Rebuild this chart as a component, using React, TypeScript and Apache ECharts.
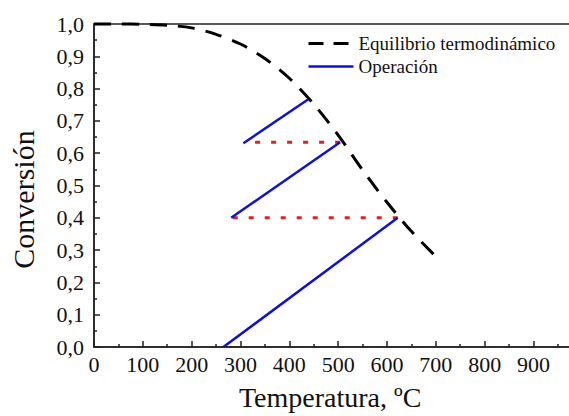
import React, { useEffect, useRef } from "react";
import * as echarts from "echarts";

const xTickLabels = [0, 100, 200, 300, 400, 500, 600, 700, 800, 900];
const xMax = 1000;
const yTickLabels = ["0,0", "0,1", "0,2", "0,3", "0,4", "0,5", "0,6", "0,7", "0,8", "0,9", "1,0"];

// Equilibrium curve (temperature °C, conversion)
const eqT = [0, 50, 100, 150, 200, 250, 300, 350, 400, 450, 500, 550, 600, 650, 710];
const eqX = [1.0, 1.0, 0.999, 0.996, 0.988, 0.968, 0.938, 0.893, 0.832, 0.752, 0.656, 0.548, 0.448, 0.358, 0.265];

// Operating lines (adiabatic beds)
const opT = [265, 622, null, 281, 504, null, 306, 439];
const opX = [0.0, 0.4, null, 0.4, 0.634, null, 0.631, 0.767];

// Inter-stage cooling (dotted)
const coolT = [622, 281, null, 504, 328];
const coolX = [0.4, 0.4, null, 0.634, 0.634];

const FONT = "Liberation Serif";

function pairs(t: (number | null)[], x: (number | null)[]) {
  return t.map((v, i) => (v === null || x[i] === null ? "-" : [v, x[i]]));
}

export default function App() {
  const ref = useRef<HTMLDivElement>(null);
  useEffect(() => {
    if (!ref.current) return;
    const chart = echarts.init(ref.current, undefined, { renderer: "svg" });
    chart.setOption({
      animation: false,
      backgroundColor: "#ffffff",
      textStyle: { fontFamily: FONT },
      grid: {
        left: 92.7,
        top: 24,
        bottom: 66.7,
        right: 17.7,
        show: true,
        borderColor: "#222",
        borderWidth: 1.5,
        backgroundColor: "transparent",
      },
      legend: {
        orient: "vertical",
        left: 307,
        top: 34,
        padding: 0,
        itemWidth: 45,
        itemHeight: 14,
        itemGap: 4,
        itemStyle: { opacity: 0 },
        data: [
          { name: "Equilibrio termodinámico", lineStyle: { type: [15, 10], width: 3, color: "#000" } },
          { name: "Operación", lineStyle: { type: "solid", width: 2.5, color: "#1010d8" } },
        ],
        textStyle: { fontFamily: FONT, fontSize: 19, color: "#111" },
      },
      xAxis: {
        type: "value",
        min: 0,
        max: xMax,
        interval: 100,
        name: "Temperatura, ºC",
        nameLocation: "middle",
        nameGap: 36,
        nameTextStyle: { fontFamily: FONT, fontSize: 28, color: "#111", padding: [0, 16, 0, 0] },
        axisLine: { show: true, lineStyle: { color: "#222", width: 1.5 } },
        axisTick: { show: true, inside: true, length: 6, lineStyle: { color: "#222", width: 1.5 } },
        minorTick: { show: true, splitNumber: 2, length: 3, lineStyle: { color: "#222", width: 1.5 } },
        splitLine: { show: false },
        axisLabel: {
          fontFamily: FONT,
          fontSize: 22,
          color: "#111",
          margin: 6,
          formatter: (v: number) => (xTickLabels.indexOf(v) >= 0 ? String(v) : ""),
        },
      },
      yAxis: {
        type: "value",
        min: 0,
        max: 1,
        interval: 0.1,
        name: "Conversión",
        nameLocation: "middle",
        nameGap: 56,
        nameTextStyle: { fontFamily: FONT, fontSize: 30, color: "#111", padding: [0, 28, 0, 0] },
        axisLine: { show: true, lineStyle: { color: "#222", width: 1.5 } },
        axisTick: { show: true, inside: true, length: 6, lineStyle: { color: "#222", width: 1.5 } },
        minorTick: { show: true, splitNumber: 2, length: 3, lineStyle: { color: "#222", width: 1.5 } },
        splitLine: { show: false },
        axisLabel: {
          fontFamily: FONT,
          fontSize: 22,
          color: "#111",
          margin: 10,
          formatter: (v: number) => yTickLabels[Math.round(v * 10)] ?? "",
        },
      },
      series: [
        {
          name: "Equilibrio termodinámico",
          type: "line",
          data: pairs(eqT, eqX),
          smooth: 0.3,
          showSymbol: false,
          symbol: "none",
          clip: false,
          lineStyle: { color: "#000", width: 3, type: [17, 11] },
          itemStyle: { color: "#000" },
        },
        {
          name: "Operación",
          type: "line",
          data: pairs(opT, opX),
          connectNulls: false,
          showSymbol: false,
          symbol: "none",
          lineStyle: { color: "#1010d8", width: 2.5 },
          itemStyle: { color: "#1010d8" },
        },
        {
          name: "Enfriamiento",
          type: "line",
          data: pairs(coolT, coolX),
          connectNulls: false,
          showSymbol: false,
          symbol: "none",
          z: 1,
          lineStyle: { color: "#e02020", width: 3, type: [5, 11] },
          itemStyle: { color: "#e02020" },
        },
      ],
    });
    return () => chart.dispose();
  }, []);
  return (
    <div style={{ position: "absolute", left: 0, top: 0, width: 569, height: 416, overflow: "hidden", background: "#fff" }}>
      <div ref={ref} style={{ width: 600, height: 416 }} />
    </div>
  );
}
